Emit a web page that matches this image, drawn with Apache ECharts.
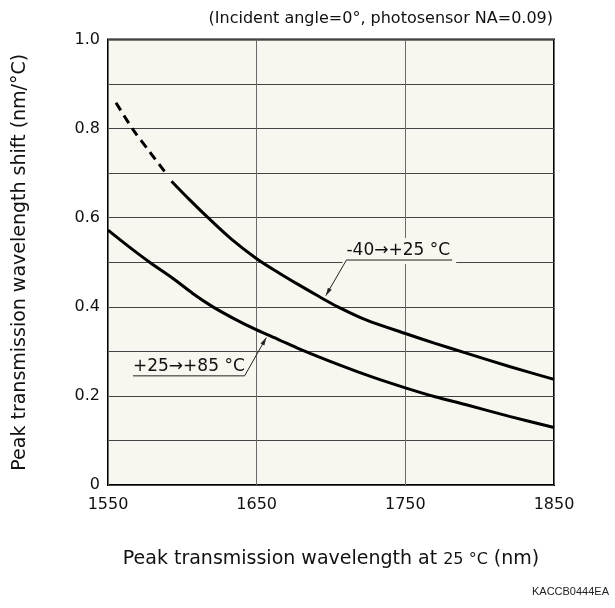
<!DOCTYPE html>
<html>
<head>
<meta charset="utf-8">
<script src="https://cdn.jsdelivr.net/npm/echarts@6/dist/echarts.min.js"></script>
<style>html,body{margin:0;padding:0;background:#fff;}#c{width:615px;height:608px;}</style>
</head>
<body>
<div id="c"></div>
<script>
// ---- data ----
const xTicks = [1550, 1650, 1750, 1850];
const yTicks = [0, 0.2, 0.4, 0.6, 0.8, 1.0];
// -40 -> +25 °C, dashed (extrapolated) part
const upperDashed = [[1555.4, 0.858], [1567, 0.797], [1578, 0.748], [1588.9, 0.700]];
// -40 -> +25 °C, solid part
const upperSolid = [[1592.7, 0.682], [1605, 0.640], [1617.3, 0.600], [1633, 0.552], [1650, 0.508], [1665, 0.476], [1679, 0.448], [1692, 0.423], [1704.6, 0.400], [1724, 0.370], [1750, 0.340], [1770, 0.318], [1791, 0.296], [1820, 0.266], [1850, 0.237]];
// +25 -> +85 °C
const lowerSolid = [[1550, 0.572], [1564, 0.535], [1578, 0.500], [1594, 0.463], [1607, 0.430], [1620, 0.401], [1635, 0.373], [1650, 0.348], [1665, 0.326], [1679, 0.305], [1706, 0.269], [1728, 0.242], [1750, 0.218], [1770, 0.198], [1791, 0.180], [1820, 0.154], [1850, 0.129]];
// annotation labels: text, underline x-range and y (data units), leader start & arrow tip
const annotations = [
  {text: '-40\u2192+25 \u00b0C', x0: 1710.4, x1: 1781.5, y: 0.505, from: [1710.4, 0.505], tip: [1696.5, 0.425]},
  {text: '+25\u2192+85 \u00b0C', x0: 1566.8, x1: 1641.9, y: 0.245, from: [1641.9, 0.245], tip: [1656.5, 0.331]}
];

const FONT = 'DejaVu Sans';
const BG = '#f7f6ef';
const chart = echarts.init(document.getElementById('c'));
const lineBase = {type: 'line', smooth: 0.3, symbol: 'none', silent: true, z: 5};
chart.setOption({
  backgroundColor: '#fff',
  animation: false,
  grid: {left: 108, right: 61, top: 39.5, bottom: 123, show: true, backgroundColor: BG, borderColor: '#000', borderWidth: 2},
  xAxis: {
    type: 'value', min: xTicks[0], max: xTicks[xTicks.length - 1], interval: 100,
    axisLine: {show: false}, axisTick: {show: false},
    splitLine: {show: true, lineStyle: {color: '#6a6a6a', width: 1}},
    axisLabel: {fontFamily: FONT, fontSize: 16, color: '#111', margin: 12, formatter: function (v) { return String(v); }},
    name: '{a|Peak transmission wavelength at }{b|25 \u00b0C}{a| (nm)}',
    nameLocation: 'middle', nameGap: 65,
    nameTextStyle: {rich: {a: {fontFamily: FONT, fontSize: 19, color: '#111'}, b: {fontFamily: FONT, fontSize: 16, color: '#111'}}}
  },
  yAxis: {
    type: 'value', min: 0, max: 1, interval: 0.1,
    axisLine: {show: false}, axisTick: {show: false},
    splitLine: {show: true, lineStyle: {color: '#444', width: 1}},
    axisLabel: {
      fontFamily: FONT, fontSize: 16, color: '#111', margin: 8,
      formatter: function (v) {
        const t = yTicks.find(function (k) { return Math.abs(k - v) < 1e-6; });
        if (t === undefined) return '';
        return t === 0 ? '0' : t.toFixed(1);
      }
    },
    name: 'Peak transmission wavelength shift (nm/\u00b0C)',
    nameLocation: 'middle', nameGap: 78,
    nameTextStyle: {fontFamily: FONT, fontSize: 19, color: '#111'}
  },
  series: [
    Object.assign({}, lineBase, {data: upperDashed, lineStyle: {color: '#000', width: 3, type: [9, 6]}}),
    Object.assign({}, lineBase, {data: upperSolid, lineStyle: {color: '#000', width: 3}}),
    Object.assign({}, lineBase, {data: lowerSolid, lineStyle: {color: '#000', width: 3}})
  ]
});

function px(p) { return chart.convertToPixel({gridIndex: 0}, p); }
const graphics = [];
annotations.forEach(function (a) {
  const l = px([a.x0, a.y]);
  const r = px([a.x1, a.y]);
  const f = px(a.from);
  const t = px(a.tip);
  // mask behind label
  graphics.push({type: 'rect', z: 3, silent: true,
    shape: {x: l[0] - 4, y: l[1] - 22, width: r[0] - l[0] + 8, height: 26},
    style: {fill: BG}});
  graphics.push({type: 'text', z: 6, silent: true, x: l[0], y: l[1] - 1,
    style: {text: a.text, fill: '#111', font: '17px "' + FONT + '"', textAlign: 'left', textVerticalAlign: 'bottom'}});
  graphics.push({type: 'line', z: 6, silent: true,
    shape: {x1: l[0], y1: l[1], x2: r[0], y2: r[1]}, style: {stroke: '#222', lineWidth: 1}});
  graphics.push({type: 'line', z: 6, silent: true,
    shape: {x1: f[0], y1: f[1], x2: t[0], y2: t[1]}, style: {stroke: '#222', lineWidth: 1}});
  const dx = t[0] - f[0], dy = t[1] - f[1];
  const len = Math.sqrt(dx * dx + dy * dy);
  const ux = dx / len, uy = dy / len;
  const bx = t[0] - ux * 8, by = t[1] - uy * 8;
  graphics.push({type: 'polygon', z: 6, silent: true,
    shape: {points: [[t[0], t[1]], [bx - uy * 2.2, by + ux * 2.2], [bx + uy * 2.2, by - ux * 2.2]]},
    style: {fill: '#222'}});
});
graphics.push({type: 'text', right: 62, top: 11, z: 6, silent: true,
  style: {text: '(Incident angle=0\u00b0, photosensor NA=0.09)', fill: '#111', font: '16px "' + FONT + '"'}});
graphics.push({type: 'text', right: 6, top: 586, z: 6, silent: true,
  style: {text: 'KACCB0444EA', fill: '#222', font: '11px "Liberation Sans Narrow", "Liberation Sans", Arial'}});
chart.setOption({graphic: graphics});
</script>
</body>
</html>
